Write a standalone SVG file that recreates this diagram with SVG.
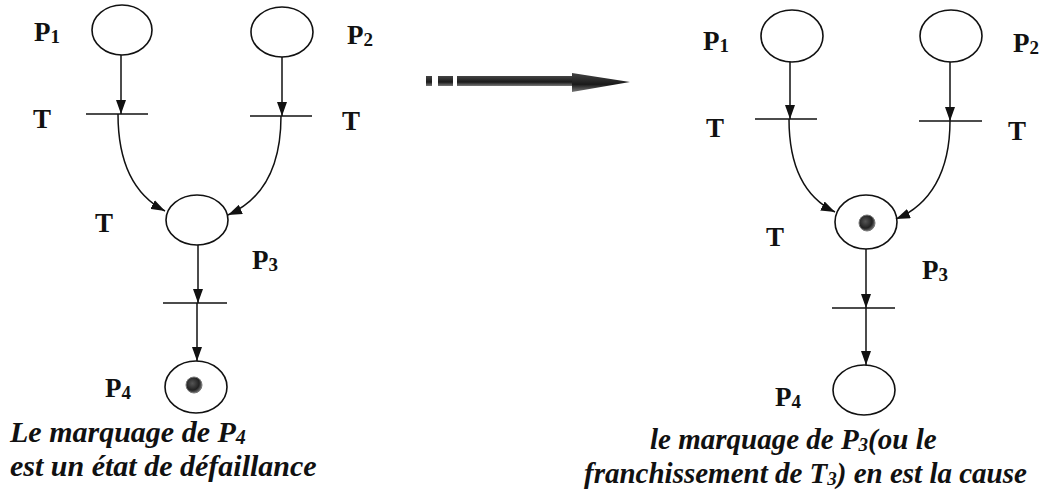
<svg xmlns="http://www.w3.org/2000/svg" width="1050" height="494" viewBox="0 0 1050 494">
<style>
.place{fill:#fff;stroke:#111;stroke-width:1.6}
.trans{stroke:#111;stroke-width:1.6}
.arc{fill:none;stroke:#111;stroke-width:1.5}
</style>
<defs>
<marker id="ah" markerUnits="userSpaceOnUse" markerWidth="14" markerHeight="10" refX="14" refY="5" orient="auto">
<path d="M0,0 L14,5 L0,10 z" fill="#111"/>
</marker>
<radialGradient id="tok" cx="0.4" cy="0.4" r="0.6">
<stop offset="0" stop-color="#555"/>
<stop offset="0.7" stop-color="#222"/>
<stop offset="1" stop-color="#666"/>
</radialGradient>
<linearGradient id="bar" x1="0" y1="0" x2="0" y2="1">
<stop offset="0" stop-color="#444"/>
<stop offset="0.6" stop-color="#1a1a1a"/>
<stop offset="1" stop-color="#777"/>
</linearGradient>
</defs>

<!-- Left net -->
<g id="L_P1"><ellipse class="place" cx="122" cy="30" rx="30" ry="25"/><text font-family="Liberation Serif" font-weight="bold" font-size="27" fill="#111" x="34" y="41">P<tspan font-size="19" dy="2">1</tspan></text></g>
<g id="L_P2"><ellipse class="place" cx="282" cy="32" rx="31" ry="25"/><text font-family="Liberation Serif" font-weight="bold" font-size="27" fill="#111" x="347" y="44">P<tspan font-size="19" dy="2">2</tspan></text></g>
<g id="L_T1"><line class="trans" x1="86" y1="114" x2="148" y2="114"/><text font-family="Liberation Serif" font-weight="bold" font-size="27" fill="#111" x="33" y="128">T</text></g>
<g id="L_T2"><line class="trans" x1="250" y1="116" x2="312" y2="116"/><text font-family="Liberation Serif" font-weight="bold" font-size="27" fill="#111" x="342" y="130">T</text></g>
<g id="L_P3"><ellipse class="place" cx="197" cy="220" rx="31" ry="25"/><text font-family="Liberation Serif" font-weight="bold" font-size="27" fill="#111" x="252" y="269">P<tspan font-size="19" dy="2">3</tspan></text></g>
<g id="L_T3"><line class="trans" x1="163" y1="303" x2="227" y2="303"/><text font-family="Liberation Serif" font-weight="bold" font-size="27" fill="#111" x="95" y="232">T</text></g>
<g id="L_P4"><ellipse class="place" cx="196" cy="387" rx="31" ry="26"/><circle cx="194" cy="385" r="8" fill="url(#tok)" stroke="#777" stroke-width="1"/><text font-family="Liberation Serif" font-weight="bold" font-size="27" fill="#111" x="105" y="397">P<tspan font-size="19" dy="2">4</tspan></text></g>

<!-- Right net -->
<g id="R_P1"><ellipse class="place" cx="792" cy="36" rx="31" ry="26"/><text font-family="Liberation Serif" font-weight="bold" font-size="27" fill="#111" x="703" y="50">P<tspan font-size="19" dy="2">1</tspan></text></g>
<g id="R_P2"><ellipse class="place" cx="951" cy="36" rx="31" ry="26"/><text font-family="Liberation Serif" font-weight="bold" font-size="27" fill="#111" x="1013" y="52">P<tspan font-size="19" dy="2">2</tspan></text></g>
<g id="R_T1"><line class="trans" x1="755" y1="119" x2="817" y2="119"/><text font-family="Liberation Serif" font-weight="bold" font-size="27" fill="#111" x="706" y="137">T</text></g>
<g id="R_T2"><line class="trans" x1="919" y1="121" x2="982" y2="121"/><text font-family="Liberation Serif" font-weight="bold" font-size="27" fill="#111" x="1008" y="140">T</text></g>
<g id="R_P3"><ellipse class="place" cx="866" cy="222" rx="31" ry="27"/><circle cx="867" cy="223" r="8" fill="url(#tok)" stroke="#777" stroke-width="1"/><text font-family="Liberation Serif" font-weight="bold" font-size="27" fill="#111" x="922" y="279">P<tspan font-size="19" dy="2">3</tspan></text></g>
<g id="R_T3"><line class="trans" x1="832" y1="308" x2="895" y2="308"/><text font-family="Liberation Serif" font-weight="bold" font-size="27" fill="#111" x="766" y="246">T</text></g>
<g id="R_P4"><ellipse class="place" cx="864" cy="390" rx="31" ry="25"/><text font-family="Liberation Serif" font-weight="bold" font-size="27" fill="#111" x="775" y="406">P<tspan font-size="19" dy="2">4</tspan></text></g>

<!-- Captions -->
<g id="captions">
<text font-family="Liberation Serif" font-weight="bold" font-style="italic" font-size="30" fill="#111" x="10" y="442">Le marquage de P<tspan font-size="20" dy="2">4</tspan></text>
<text font-family="Liberation Serif" font-weight="bold" font-style="italic" font-size="30" fill="#111" x="10" y="476">est un état de défaillance</text>
<text font-family="Liberation Serif" font-weight="bold" font-style="italic" font-size="29" fill="#111" x="650" y="449">le marquage de P<tspan font-size="19" dy="2">3</tspan><tspan dy="-2">(ou le</tspan></text>
<text font-family="Liberation Serif" font-weight="bold" font-style="italic" font-size="29" fill="#111" x="584" y="483">franchissement de T<tspan font-size="19" dy="2">3</tspan><tspan dy="-2">) en est la cause</tspan></text>
</g>

<!-- Connectors -->
<g id="connectors">
<line class="arc" x1="121" y1="55" x2="121" y2="114" marker-end="url(#ah)"/>
<line class="arc" x1="282" y1="57" x2="282" y2="116" marker-end="url(#ah)"/>
<path class="arc" d="M118,114 C118,165 136,196 165,211" marker-end="url(#ah)"/>
<path class="arc" d="M281,116 C281,168 262,200 228,215" marker-end="url(#ah)"/>
<line class="arc" x1="198" y1="245" x2="198" y2="303" marker-end="url(#ah)"/>
<line class="arc" x1="197" y1="303" x2="197" y2="361" marker-end="url(#ah)"/>

<line class="arc" x1="790" y1="62" x2="790" y2="119" marker-end="url(#ah)"/>
<line class="arc" x1="950" y1="62" x2="950" y2="121" marker-end="url(#ah)"/>
<path class="arc" d="M789,119 C789,168 806,198 835,212" marker-end="url(#ah)"/>
<path class="arc" d="M950,121 C950,172 930,205 896,219" marker-end="url(#ah)"/>
<line class="arc" x1="866" y1="249" x2="866" y2="308" marker-end="url(#ah)"/>
<line class="arc" x1="866" y1="308" x2="866" y2="365" marker-end="url(#ah)"/>
</g>

<!-- Big transition arrow -->
<g id="bigArrow" fill="url(#bar)">
<rect x="426" y="76" width="6" height="10"/>
<rect x="438" y="76" width="15" height="10"/>
<rect x="457" y="76" width="118" height="10"/>
<polygon points="572,73 630,82 572,92"/>
</g>
</svg>
